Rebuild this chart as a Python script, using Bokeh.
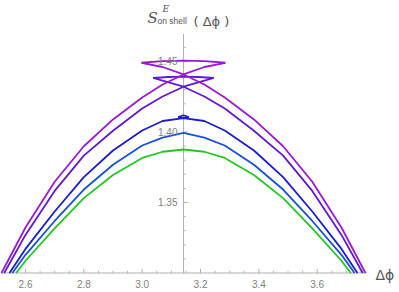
from bokeh.plotting import figure
from bokeh.embed import file_html
from bokeh.resources import INLINE
from bokeh.core.properties import value

PHI0 = 3.14159
X_MIN, X_MAX = 2.5143, 3.7690      # extent of the horizontal axis
Y_MIN, Y_MAX = 1.30, 1.4695        # extent of the vertical axis

# ---- axis ticks ----
x_ticks = [2.6, 2.8, 3.0, 3.2, 3.4, 3.6]
x_tick_labels = ["2.6", "2.8", "3.0", "3.2", "3.4", "3.6"]
x_minor_ticks = [2.55, 2.65, 2.7, 2.75, 2.85, 2.9, 2.95, 3.05, 3.1, 3.15,
                 3.25, 3.3, 3.35, 3.45, 3.5, 3.55, 3.65, 3.7, 3.75]
y_ticks = [1.35, 1.40, 1.45]
y_tick_labels = ["1.35", "1.40", "1.45"]
y_minor_ticks = [1.31, 1.32, 1.33, 1.34, 1.36, 1.37, 1.38, 1.39,
                 1.41, 1.42, 1.43, 1.44, 1.46]

# ---- curves ----
green_x = [2.568, 2.60, 2.70, 2.80, 2.90, 3.00, 3.07, 3.1416, 3.2132, 3.2832,
           3.3832, 3.4832, 3.5832, 3.6832, 3.7152]
green_y = [1.3000, 1.3087, 1.3316, 1.3531, 1.3695, 1.3816, 1.3860, 1.3876, 1.3860,
           1.3816, 1.3695, 1.3531, 1.3316, 1.3087, 1.3000]

blue_x = [2.555, 2.60, 2.70, 2.80, 2.90, 3.00, 3.07, 3.1416, 3.2132, 3.2832,
          3.3832, 3.4832, 3.5832, 3.6832, 3.728]
blue_y = [1.3000, 1.3129, 1.3369, 1.3592, 1.3768, 1.3904, 1.3960, 1.3994, 1.3960,
          1.3904, 1.3768, 1.3592, 1.3369, 1.3129, 1.3000]

navy_x = [2.545, 2.60, 2.70, 2.80, 2.90, 3.00, 3.07, 3.1416, 3.1596, 3.1416, 3.1236,
          3.1416, 3.2132, 3.2832, 3.3832, 3.4832, 3.5832, 3.6832, 3.738]
navy_y = [1.3000, 1.3171, 1.3436, 1.3680, 1.3869, 1.4011, 1.4078, 1.4099, 1.4105,
          1.4119, 1.4105, 1.4099, 1.4078, 1.4011, 1.3869, 1.3680, 1.3436, 1.3171, 1.3000]

purple_x = [2.527, 2.60, 2.70, 2.80, 2.90, 3.00, 3.07, 3.1416, 3.2132, 3.2456,
            3.1936, 3.1416, 3.0896, 3.0376, 3.07, 3.1416, 3.2132, 3.2832, 3.3832,
            3.4832, 3.5832, 3.6832, 3.756]
purple_y = [1.3000, 1.3270, 1.3582, 1.3832, 1.4009, 1.4167, 1.4252, 1.4321, 1.4365,
            1.4383, 1.4390, 1.4393, 1.4390, 1.4383, 1.4365, 1.4321, 1.4252, 1.4167,
            1.4009, 1.3832, 1.3582, 1.3270, 1.3000]

violet_x = [2.5177, 2.60, 2.70, 2.80, 2.90, 3.00, 3.07, 3.1416, 3.2132, 3.2856,
            3.2136, 3.1416, 3.0696, 2.9976, 3.07, 3.1416, 3.2132, 3.2832, 3.3832,
            3.4832, 3.5832, 3.6832, 3.7655]
violet_y = [1.3000, 1.3323, 1.3647, 1.3899, 1.4089, 1.4245, 1.4337, 1.4408, 1.4461,
            1.4491, 1.4502, 1.4506, 1.4502, 1.4491, 1.4461, 1.4408, 1.4337, 1.4245,
            1.4089, 1.3899, 1.3647, 1.3323, 1.3000]

series = [
    (green_x, green_y, "#22c822"),
    (blue_x, blue_y, "#1850d8"),
    (navy_x, navy_y, "#1c1cd0"),
    (purple_x, purple_y, "#5e1ad2"),
    (violet_x, violet_y, "#9a1ad2"),
]

AXIS_COLOR = "#b0b0b0"
TICK_TEXT = "#808080"
LABEL_TEXT = "#555555"

# the frame covers the whole canvas; axes are drawn as glyphs
p = figure(frame_width=399, frame_height=292,
           x_range=(2.5143, 3.8822), y_range=(1.28617, 1.49326),
           output_backend="svg", toolbar_location=None,
           x_axis_location=None, y_axis_location=None,
           min_border_left=0, min_border_right=0,
           min_border_top=0, min_border_bottom=0)
p.outline_line_color = None
p.grid.visible = False
p.background_fill_color = "white"
p.border_fill_color = "white"

# horizontal axis
p.segment(x0=[X_MIN], y0=[Y_MIN], x1=[X_MAX], y1=[Y_MIN], line_color=AXIS_COLOR, line_width=1)
p.segment(x0=x_ticks, y0=[Y_MIN] * len(x_ticks), x1=x_ticks, y1=[Y_MIN + 0.0029] * len(x_ticks),
          line_color=AXIS_COLOR, line_width=1)
p.segment(x0=x_minor_ticks, y0=[Y_MIN] * len(x_minor_ticks), x1=x_minor_ticks,
          y1=[Y_MIN + 0.0015] * len(x_minor_ticks), line_color=AXIS_COLOR, line_width=1)
p.text(x=x_ticks, y=[Y_MIN] * len(x_ticks), text=x_tick_labels, y_offset=11,
       text_align="center", text_baseline="middle", text_font=value("Liberation Sans"),
       text_font_size="10px", text_color=TICK_TEXT)

# vertical axis at x = pi
p.segment(x0=[PHI0], y0=[Y_MIN], x1=[PHI0], y1=[Y_MAX], line_color=AXIS_COLOR, line_width=1)
p.segment(x0=[PHI0] * len(y_ticks), y0=y_ticks, x1=[PHI0 + 0.0137] * len(y_ticks), y1=y_ticks,
          line_color=AXIS_COLOR, line_width=1)
p.segment(x0=[PHI0] * len(y_minor_ticks), y0=y_minor_ticks,
          x1=[PHI0 + 0.0075] * len(y_minor_ticks), y1=y_minor_ticks,
          line_color=AXIS_COLOR, line_width=1)

for xs, ys, c in series:
    p.line(xs, ys, line_color=c, line_width=1.8)

p.text(x=[PHI0] * len(y_ticks), y=y_ticks, text=y_tick_labels, x_offset=-6,
       text_align="right", text_baseline="middle", text_font=value("Liberation Sans"),
       text_font_size="10px", text_color=TICK_TEXT)

# axis labels
p.text(x=[3.0182], y=[1.4805], text=["S"], text_font=value("DejaVu Serif"),
       text_font_style="italic", text_font_size="15px", text_color=LABEL_TEXT,
       text_baseline="alphabetic", text_align="left")
p.text(x=[3.0696], y=[1.4869], text=["E"], text_font=value("DejaVu Serif"),
       text_font_style="italic", text_font_size="9px", text_color=LABEL_TEXT,
       text_baseline="alphabetic", text_align="left")
p.text(x=[3.0525], y=[1.4788], text=["on shell"], text_font=value("Liberation Sans"),
       text_font_size="8.5px", text_color=LABEL_TEXT, text_baseline="alphabetic",
       text_align="left")
p.text(x=[3.1759], y=[1.4787], text=["( \u0394\u03d5 )"], text_font=value("DejaVu Sans"),
       text_font_size="13px", text_color=LABEL_TEXT, text_baseline="alphabetic",
       text_align="left")
p.text(x=[3.7999], y=[1.2989], text=["\u0394\u03d5"], text_font=value("DejaVu Sans"),
       text_font_size="14px", text_color=LABEL_TEXT, text_baseline="middle",
       text_align="left")

open("out.html", "w").write(file_html(p, INLINE))
